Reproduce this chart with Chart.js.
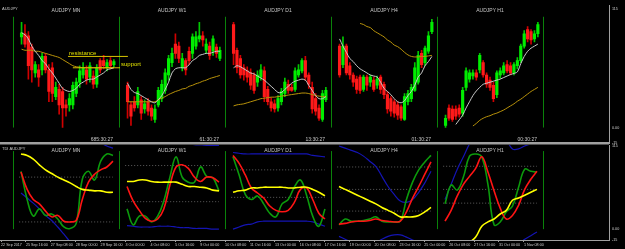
<!DOCTYPE html>
<html>
<head>
<meta charset="utf-8">
<script src="https://cdn.jsdelivr.net/npm/chart.js@4.4.1/dist/chart.umd.min.js"></script>
<style>
  html, body { margin: 0; padding: 0; background: #000; }
  #wrap { position: relative; width: 625px; height: 249px; }
  #wrap canvas { position: absolute; left: 0; top: 0; }
</style>
</head>
<body>
<div id="wrap">
  <canvas id="priceChart" width="625" height="249"></canvas>
  <canvas id="tdiChart" width="625" height="249"></canvas>
</div>
<script>
const symbolName = "AUDJPY";
const panelNames = ["MN", "W1", "D1", "H4", "H1"];
const barTimers = ["685:30:27", "61:30:27", "13:30:27", "01:30:27", "00:30:27"];
const dateLabels = ["22 Sep 2017", "25 Sep 16:00", "27 Sep 08:00", "28 Sep 00:00", "29 Sep 16:00",
  "3 Oct 00:00", "4 Oct 08:00", "5 Oct 16:00", "9 Oct 00:00", "10 Oct 08:00", "11 Oct 16:00",
  "13 Oct 00:00", "16 Oct 08:00", "17 Oct 16:00", "19 Oct 00:00", "20 Oct 08:00", "23 Oct 16:00",
  "25 Oct 00:00", "26 Oct 08:00", "27 Oct 16:00", "31 Oct 00:00", "1 Nov 08:00"];
const priceTicks = [115, 0, -15];
const priceTickLabels = ["115", "0.00", "-15"];

// candles, one array per panel and field
const MN_OPEN  = [88, 91, 89, 78, 53, 56, 56, 69, 56, 58, 30, 37, 35, 22, 22, 22, 33, 44, 51, 56, 49, 50, 42, 65, 65, 58, 65, 61];
const MN_HIGH  = [102, 100, 93, 81, 64, 61, 72, 72, 61, 63, 44, 42, 39, 27, 33, 44, 48, 60, 63, 60, 63, 55, 61, 67, 70, 66, 68, 66];
const MN_LOW   = [81, 78, 47, 44, 49, 40, 51, 53, 25, 25, 27, 13, 0, 11, 16, 18, 30, 39, 48, 42, 44, 38, 39, 53, 57, 55, 57, 59];
const MN_CLOSE = [92, 81, 60, 56, 61, 49, 69, 56, 35, 33, 39, 22, 19, 19, 28, 41, 44, 55, 58, 47, 60, 42, 58, 56, 60, 63, 60, 64];

const W1_OPEN  = [41, 22, 25, 22, 27, 18, 25, 19, 8, 22, 28, 36, 51, 63, 81, 79, 58, 65, 74, 72, 79, 86, 89, 75, 79, 74, 78, 67];
const W1_HIGH  = [44, 25, 30, 39, 30, 27, 28, 22, 22, 39, 46, 57, 70, 77, 91, 83, 72, 67, 78, 91, 93, 102, 93, 86, 83, 89, 81, 78];
const W1_LOW   = [9, 2, 16, 19, 8, 14, 12, 7, 5, 20, 25, 33, 46, 59, 67, 63, 55, 51, 61, 67, 76, 83, 79, 72, 66, 70, 68, 65];
const W1_CLOSE = [25, 11, 19, 35, 14, 23, 16, 11, 18, 36, 42, 53, 67, 72, 72, 67, 67, 56, 65, 88, 88, 89, 85, 81, 70, 86, 72, 75];

const D1_OPEN  = [100, 75, 67, 58, 55, 53, 51, 44, 49, 55, 37, 25, 23, 19, 25, 33, 42, 39, 37, 51, 55, 65, 51, 39, 28, 19, 8, 27];
const D1_HIGH  = [102, 77, 70, 61, 59, 57, 53, 55, 61, 59, 40, 29, 27, 31, 38, 48, 46, 42, 58, 61, 67, 69, 53, 44, 33, 22, 36, 39];
const D1_LOW   = [61, 53, 48, 46, 44, 37, 33, 40, 46, 25, 22, 16, 15, 16, 22, 30, 33, 35, 35, 49, 53, 46, 38, 14, 12, 7, 6, 25];
const D1_CLOSE = [72, 58, 51, 51, 49, 41, 36, 51, 56, 30, 25, 19, 18, 28, 35, 44, 36, 36, 55, 56, 65, 49, 42, 18, 16, 9, 33, 36];

const H4_OPEN  = [79, 61, 79, 60, 51, 47, 49, 37, 49, 44, 46, 41, 49, 42, 32, 28, 25, 22, 20, 8, 25, 28, 36, 44, 72, 63, 74, 93];
const H4_HIGH  = [81, 88, 81, 63, 53, 50, 51, 51, 51, 51, 49, 50, 51, 44, 35, 30, 27, 25, 22, 33, 36, 42, 63, 74, 75, 79, 93, 105];
const H4_LOW   = [49, 58, 51, 47, 40, 33, 33, 35, 36, 40, 35, 38, 33, 28, 14, 11, 10, 8, 7, 7, 22, 25, 35, 42, 58, 60, 72, 91];
const H4_CLOSE = [51, 79, 53, 51, 44, 37, 36, 49, 41, 49, 37, 47, 37, 32, 18, 16, 14, 12, 9, 30, 33, 39, 58, 70, 61, 77, 89, 102];

const H1_OPEN  = [2, 19, 18, 18, 19, 14, 39, 47, 50, 53, 56, 63, 51, 46, 41, 32, 51, 53, 61, 60, 53, 60, 65, 79, 95, 93, 86, 91];
const H1_HIGH  = [12, 22, 21, 21, 22, 39, 58, 56, 56, 56, 72, 65, 53, 49, 44, 55, 58, 63, 65, 63, 63, 68, 81, 94, 98, 95, 94, 102];
const H1_LOW   = [0, 7, 6, 8, 10, 11, 36, 44, 47, 46, 53, 49, 39, 36, 25, 29, 48, 51, 53, 51, 51, 57, 63, 77, 83, 81, 83, 88];
const H1_CLOSE = [9, 9, 8, 11, 13, 36, 55, 53, 53, 49, 70, 51, 42, 39, 28, 53, 55, 60, 55, 53, 61, 65, 79, 91, 86, 85, 91, 100];

// moving averages (white = fast, gold = slow)
const MN_FAST = [92, 90, 86, 79, 74, 70, 65, 62, 57, 53, 48, 43, 38, 36, 35, 36, 38, 42, 44, 46, 47, 47, 49, 51, 53, 56, 57, 58];
const MN_SLOW = [76, 75, 75, 75, 74, 74, 73, 72, 71, 70, 69, 68, 66, 64, 62, 60, 59, 58.5, 58, 58, 58, 58, 58, 58, 58, 58, 58, 58];
const W1_FAST = [43, 37, 34, 33, 31, 29, 27, 25, 24, 27, 31, 37, 44, 53, 57, 58, 58, 58, 61, 65, 67, 70, 71, 72, 72, 73, 74, 74];
const W1_SLOW = [25, 25, 25, 25, 25, 25, 25, 25, 25, 27, 28.5, 30, 32, 33.5, 35, 36, 37.5, 38, 40, 41, 42.5, 43.5, 45, 46, 47.5, 48.5, 49.5, 50.5];
const D1_FAST = [58, 60, 59, 57, 55, 53, 52, 50, 48, 46, 43, 40, 37, 34, 34, 37, 40, 43, 45, 46, 47, 46, 41, 36, 31, 28, 28, 30];
const D1_SLOW = [21, 22, 22.5, 23, 24, 25, 26, 27, 28, 28.5, 29, 29.5, 29.5, 30, 30.5, 31, 31.5, 32, 32.5, 33, 33.5, 33.5, 33, 32, 31, 30.5, 30, 30];
const H4_FAST = [86, 79, 73, 67, 64, 60, 57, 55, 53, 51, 50, 49, 44, 38, 35, 32, 28, 25, 24, 26, 31, 35, 41, 49, 53, 60, 64, 69];
const H4_SLOW = [null, null, null, null, null, null, 101, 100, 98, 97, 94, 92, 90, 88, 85, 83, 80, 78.5, 76, 73, 70.5, 69, 68.5, 68.5, 69, 69, 69.5, 70];
const H1_FAST = [null, null, null, 3, 7.5, 12, 19, 25, 31, 35.5, 39, 42, 43, 44, 45, 46, 47, 48.5, 50, 51.5, 52.5, 54, 62, 69, 74, 77, 79, 81];
const H1_SLOW = [null, null, null, null, null, null, null, null, 1.5, 4, 7, 9, 10.5, 11.5, 13, 14, 15.5, 17, 19, 21, 23, 25.5, 27.5, 30, 32.5, 35, 37, 39];

// drawn trend lines on the MN panel (bar index from / to, level)
const trendNames = ["resistance", "support"];
const trendFrom = [13.6, 15];
const trendTo = [31.1, 28.8];
const trendLevel = [69, 58];

// TDI sub window, 16 samples per panel
const MN_TDI_GREEN  = [80, 41, 18, 28, 19, 21, 14, 3, 1, 8, 69, 80, 68, 94, 104, 102];
const MN_TDI_RED    = [79, 55, 41, 35, 25, 17, 19, 11, 10, 12, 41, 65, 76, 82, 86, 94];
const MN_TDI_YELLOW = [104, 102, 97, 89, 82, 77, 72, 68, 64, 59, 55, 54, 53, 53, 51, 51];
const MN_TDI_UPPER  = [135, 135, 133, 132, 130, 128, 127, 126, 125, 124, 123, 122, 121, 119, 115, 112];
const MN_TDI_LOWER  = [50, 43, 36, 28, 19, 12, 3, -7, -17, -22, -25, -25, -24, -22, -21, -21];

const W1_TDI_GREEN  = [28, 6, 18, 18, 10, 18, 39, 72, 100, 72, 65, 65, 86, 73, 71, 53];
const W1_TDI_RED    = [59, 39, 26, 15, 11, 14, 28, 61, 86, 89, 84, 72, 66, 72, 71, 65];
const W1_TDI_YELLOW = [66, 66, 68, 68, 66, 65, 65, 65, 65, 62, 59, 59, 58, 57, 54, 53];
const W1_TDI_UPPER  = [122, 122, 121, 121, 120, 120, 119, 119, 119, 118, 118, 117, 117, 116, 116, 116];
const W1_TDI_LOWER  = [5, 4, 3, 3, 3, 4, 4, 4, 3, 2, 2, 1, 1, 1, 0, 0];

const D1_TDI_GREEN  = [100, 75, 48, 41, 46, 35, 22, 17, 35, 41, 58, 68, 47, 18, 4, 28];
const D1_TDI_RED    = [102, 91, 75, 57, 50, 43, 32, 26, 24, 26, 37, 55, 57, 41, 22, 14];
const D1_TDI_YELLOW = [51, 53, 54, 57, 57, 58, 58, 58, 58, 57, 57, 58, 58, 55, 51, 46];
const D1_TDI_UPPER  = [106, 105, 104, 104, 104, 104, 104, 104, 104, 104, 104, 104, 104, 102, 101, 100];
const D1_TDI_LOWER  = [0, 3, 6, 7, 10, 11, 11, 11, 11, 11, 11, 11, 11, 10, 7, 4];

const H4_TDI_GREEN  = [6, 14, 11, 11, 12, 14, 17, 11, 10, 10, 11, 41, 65, 82, 93, 102];
const H4_TDI_RED    = [7, 8, 10, 11, 11, 12, 14, 12, 11, 10, 11, 24, 43, 59, 76, 93];
const H4_TDI_YELLOW = [59, 55, 51, 47, 43, 39, 35, 30, 26, 22, 17, 17, 17, 19, 24, 30];
const H4_TDI_UPPER  = [115, 112, 109, 106, 101, 94, 87, 73, 59, 48, 39, 37, 41, 51, 64, 80];
const H4_TDI_LOWER  = [-10, -14, -18, -21, -22, -22, -19, -14, -10, -8, -8, -11, -15, -18, -19, -19];

const H1_TDI_GREEN  = [35, 61, 54, 72, 101, 104, 100, 62, 6, 10, 24, 32, 58, 83, 80, 79];
const H1_TDI_RED    = [11, 26, 46, 62, 73, 84, 100, 79, 53, 29, 14, 19, 33, 55, 69, 80];
const H1_TDI_YELLOW = [-44, -36, -29, -22, -18, -11, 4, 10, 14, 21, 26, 40, 43, 47, 51, 55];
const H1_TDI_UPPER  = [41, 62, 83, 100, 118, 131, 135, 135, 135, 135, 124, 111, 111, 115, 118, 120];
const H1_TDI_LOWER  = [-40, -40, -40, -38, -36, -34, -32, -30, -28, -26, -24, -22, -20, -14, -9, -4];

const MN_LEVELS = [72, 10];
const W1_LEVELS = [88, 38];
const D1_LEVELS = [82, 44];
const H4_LEVELS = [86, 55, 25];
const H1_LEVELS = [87, 55, 36];

const OPEN = [MN_OPEN, W1_OPEN, D1_OPEN, H4_OPEN, H1_OPEN];
const HIGH = [MN_HIGH, W1_HIGH, D1_HIGH, H4_HIGH, H1_HIGH];
const LOW = [MN_LOW, W1_LOW, D1_LOW, H4_LOW, H1_LOW];
const CLOSE = [MN_CLOSE, W1_CLOSE, D1_CLOSE, H4_CLOSE, H1_CLOSE];
const FAST = [MN_FAST, W1_FAST, D1_FAST, H4_FAST, H1_FAST];
const SLOW = [MN_SLOW, W1_SLOW, D1_SLOW, H4_SLOW, H1_SLOW];
const TDI_GREEN = [MN_TDI_GREEN, W1_TDI_GREEN, D1_TDI_GREEN, H4_TDI_GREEN, H1_TDI_GREEN];
const TDI_RED = [MN_TDI_RED, W1_TDI_RED, D1_TDI_RED, H4_TDI_RED, H1_TDI_RED];
const TDI_YELLOW = [MN_TDI_YELLOW, W1_TDI_YELLOW, D1_TDI_YELLOW, H4_TDI_YELLOW, H1_TDI_YELLOW];
const TDI_UPPER = [MN_TDI_UPPER, W1_TDI_UPPER, D1_TDI_UPPER, H4_TDI_UPPER, H1_TDI_UPPER];
const TDI_LOWER = [MN_TDI_LOWER, W1_TDI_LOWER, D1_TDI_LOWER, H4_TDI_LOWER, H1_TDI_LOWER];
const LEVELS = [MN_LEVELS, W1_LEVELS, D1_LEVELS, H4_LEVELS, H1_LEVELS];

// layout, in bar slots of the shared x scale
const SLOT_MAX = 178.1;
const PANEL_EDGE0 = 3.8;
const PANEL_STEP = 31;
const CANDLE_OFFSET = 2.5;
const LINE_OFFSET = 2.34;
const LINE_STEP = 1.793;
const LEVEL_FROM = 1.8;
const LEVEL_TO = 29.2;
const DATE_TICK0 = 0.29;
const DATE_TICK_STEP = 7.282;

const BULL = "#00ee00";
const BEAR = "#ff1a1a";
const FONT = "Liberation Sans";

function panelLeft(p) { return PANEL_EDGE0 + PANEL_STEP * p; }
function candleX(p, i) { return panelLeft(p) + CANDLE_OFFSET + i; }
function lineX(p, j) { return panelLeft(p) + LINE_OFFSET + j * LINE_STEP; }

function priceAxis(max) {
  return {
    position: "right", min: -15, max: max,
    afterBuildTicks: s => { s.ticks = priceTicks.map(v => ({ value: v })); },
    afterFit: s => { s.width = 16; },
    ticks: { autoSkip: false, padding: 3, color: "#d0d0d0", font: { family: FONT, size: 3.7 },
      callback: (v, i) => priceTickLabels[i] },
    grid: { display: false, drawTicks: false },
    border: { display: true, color: "#a0a0a0", width: 1 }
  };
}

// green panel separators, titles, timers
const panelFrame = {
  id: "panelFrame",
  beforeDatasetsDraw(chart, args, opts) {
    const { ctx, scales: { x, y } } = chart;
    ctx.save();
    ctx.strokeStyle = "#0a820a";
    ctx.lineWidth = 1;
    for (let p = 0; p <= panelNames.length; p++) {
      const px = Math.round(x.getPixelForValue(panelLeft(p))) + 0.5;
      ctx.beginPath();
      ctx.moveTo(px, y.getPixelForValue(opts.lineTop));
      ctx.lineTo(px, y.getPixelForValue(0));
      ctx.stroke();
    }
    ctx.restore();
  },
  afterDraw(chart, args, opts) {
    const { ctx, chartArea, scales: { x } } = chart;
    ctx.save();
    ctx.fillStyle = "#c8c8c8";
    ctx.textBaseline = "middle";
    ctx.font = "4px " + FONT;
    ctx.textAlign = "left";
    ctx.fillText(opts.corner, 2, chartArea.top + 3.5);
    ctx.font = "5px " + FONT;
    ctx.textAlign = "center";
    panelNames.forEach((n, p) => {
      const cx = x.getPixelForValue(panelLeft(p) + PANEL_STEP / 2);
      ctx.fillText(symbolName + " " + n, cx, chartArea.top + 5.5);
    });
    if (opts.timers) {
      ctx.textAlign = "right";
      barTimers.forEach((t, p) => {
        const rx = x.getPixelForValue(panelLeft(p + 1)) - 6;
        ctx.fillText(t, rx, chartArea.top + 134);
      });
    }
    if (opts.separator) {
      ctx.fillStyle = "#a0a0a0";
      ctx.fillRect(0, chartArea.bottom - 1, chartArea.right, 2.5);
    }
    ctx.restore();
  }
};

const trendText = {
  id: "trendText",
  afterDatasetsDraw(chart) {
    const { ctx, scales: { x, y } } = chart;
    ctx.save();
    ctx.fillStyle = "#e0e000";
    ctx.font = "6px " + FONT;
    ctx.textBaseline = "middle";
    ctx.textAlign = "left";
    ctx.fillText(trendNames[0], x.getPixelForValue(candleX(0, trendFrom[0])) + 1, y.getPixelForValue(trendLevel[0]) - 3);
    ctx.fillText(trendNames[1], x.getPixelForValue(candleX(0, trendTo[1])) + 1, y.getPixelForValue(trendLevel[1]) - 3);
    ctx.restore();
  }
};

// upper pane
const priceSets = [];
panelNames.forEach((n, p) => {
  const isBull = i => CLOSE[p][i] >= OPEN[p][i];
  priceSets.push({
    type: "line", order: 10,
    data: FAST[p].map((v, i) => ({ x: candleX(p, i), y: v })),
    borderColor: "#c8c8c8", borderWidth: 1, pointRadius: 0, tension: 0.3
  });
  priceSets.push({
    type: "line", order: 15,
    data: SLOW[p].map((v, i) => ({ x: candleX(p, i), y: v })),
    borderColor: "#b8920a", borderWidth: 1, pointRadius: 0, tension: 0.3
  });
  priceSets.push({
    type: "bar", order: 20, grouped: false, barThickness: 2.5, minBarLength: 1,
    data: OPEN[p].map((o, i) => ({ x: candleX(p, i), y: [o, CLOSE[p][i]] })),
    backgroundColor: ctx => isBull(ctx.dataIndex) ? BULL : BEAR
  });
  priceSets.push({
    type: "bar", order: 30, grouped: false, barThickness: 1,
    data: HIGH[p].map((h, i) => ({ x: candleX(p, i), y: [LOW[p][i], h] })),
    backgroundColor: ctx => isBull(ctx.dataIndex) ? "#00c800" : "#d00000"
  });
});
trendNames.forEach((n, k) => {
  priceSets.push({
    type: "line", order: 5,
    data: [{ x: candleX(0, trendFrom[k]), y: trendLevel[k] }, { x: candleX(0, trendTo[k]), y: trendLevel[k] }],
    borderColor: "#d8c400", borderWidth: 1, pointRadius: 0
  });
});

new Chart(document.getElementById("priceChart"), {
  type: "line",
  data: { datasets: priceSets },
  options: {
    responsive: false, animation: false, events: [],
    layout: { padding: { left: 0, right: 0, top: 0, bottom: 106 } },
    plugins: {
      legend: { display: false }, tooltip: { enabled: false },
      panelFrame: { lineTop: 107.5, corner: symbolName, timers: true, separator: true }
    },
    scales: {
      x: { type: "linear", min: 0, max: SLOT_MAX, offset: false, display: false },
      y: priceAxis(118.7)
    }
  },
  plugins: [panelFrame, trendText]
});

// lower pane (TDI)
const tdiSets = [];
panelNames.forEach((n, p) => {
  const series = (arr, color, width, order) => ({
    type: "line", order: order,
    data: arr.map((v, j) => ({ x: lineX(p, j), y: v })),
    borderColor: color, borderWidth: width, pointRadius: 0, tension: 0.4
  });
  LEVELS[p].forEach(lv => {
    tdiSets.push({
      type: "line", order: 50,
      data: [{ x: panelLeft(p) + LEVEL_FROM, y: lv }, { x: panelLeft(p) + LEVEL_TO, y: lv }],
      borderColor: "#5e5e5e", borderWidth: 1, borderDash: [1, 2], pointRadius: 0
    });
  });
  tdiSets.push(series(TDI_UPPER[p], "#1414b4", 1.2, 40));
  tdiSets.push(series(TDI_LOWER[p], "#1414b4", 1.2, 40));
  tdiSets.push(series(TDI_GREEN[p], "#0c9a0c", 1.6, 30));
  tdiSets.push(series(TDI_RED[p], "#ff1414", 1.6, 20));
  tdiSets.push(series(TDI_YELLOW[p], "#ffff00", 1.6, 10));
});

new Chart(document.getElementById("tdiChart"), {
  type: "line",
  data: { datasets: tdiSets },
  options: {
    responsive: false, animation: false, events: [],
    layout: { padding: { left: 0, right: 0, top: 145, bottom: 0 } },
    plugins: {
      legend: { display: false }, tooltip: { enabled: false },
      panelFrame: { lineTop: 108, corner: "TDI " + symbolName, timers: false, separator: false }
    },
    scales: {
      x: {
        type: "linear", min: 0, max: SLOT_MAX, offset: false,
        afterBuildTicks: s => { s.ticks = dateLabels.map((l, k) => ({ value: DATE_TICK0 + DATE_TICK_STEP * k })); },
        afterFit: s => { s.height = 9; },
        ticks: { autoSkip: false, maxRotation: 0, minRotation: 0, align: "start", padding: 1,
          color: "#d0d0d0", font: { family: FONT, size: 3.7 }, callback: (v, i) => dateLabels[i] },
        grid: { drawOnChartArea: false, drawTicks: true, tickLength: 2, color: "#a0a0a0" },
        border: { display: true, color: "#a0a0a0" }
      },
      y: priceAxis(116.4)
    }
  },
  plugins: [panelFrame]
});
</script>
</body>
</html>
